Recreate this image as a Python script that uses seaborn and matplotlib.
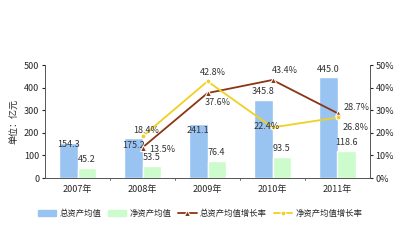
import pandas as pd
import matplotlib
matplotlib.use("Agg")
import matplotlib.pyplot as plt
import seaborn as sns

# data
years = ["2007年", "2008年", "2009年", "2010年", "2011年"]
total_assets = [154.3, 175.2, 241.1, 345.8, 445.0]
net_assets = [45.2, 53.5, 76.4, 93.5, 118.6]
total_growth = [None, 13.5, 37.6, 43.4, 28.7]
net_growth = [None, 18.4, 42.8, 22.4, 26.8]

sns.set_style("white")
plt.rcParams['font.family'] = ['Noto Sans CJK SC', 'DejaVu Sans']

bar_df = pd.DataFrame({
    "year": years * 2,
    "value": total_assets + net_assets,
    "kind": ["总资产均值"] * 5 + ["净资产均值"] * 5,
})
line_df = pd.DataFrame({"year": years, "total": total_growth, "net": net_growth}).dropna()

fig = plt.figure(figsize=(4, 2.4), dpi=100)
ax = fig.add_axes([0.1125, 0.258, 0.8125, 0.471])

sns.barplot(data=bar_df, x="year", y="value", hue="kind", ax=ax,
            palette=["#99C4F2", "#CCFCCC"], width=0.56, saturation=1, legend=False)
ax.set_ylim(0, 500)
ax.set_xlim(-0.5, 4.5)
ax.set_yticks(range(0, 501, 100))
ax.set_xlabel("")
ax.set_ylabel("单位：亿元", fontsize=6.5, labelpad=4)
ax.tick_params(axis="both", labelsize=6.5, length=2, pad=2)
ax.tick_params(axis="x", length=0, pad=5)
for x in [0.5, 1.5, 2.5, 3.5]:
    ax.plot([x, x], [0, -8], color="#555555", lw=0.6, clip_on=False)

# bar value labels (vertical offsets in points, as placed in the reference)
bar_dy = [[-1, -5, -5, 6, 6], [6, 6, 6, 6, 6]]
for ci, c in enumerate(ax.containers):
    for bi, p in enumerate(c.patches):
        ax.annotate(f"{p.get_height():.1f}", (p.get_x() + p.get_width() / 2, p.get_height()),
                    xytext=(0, bar_dy[ci][bi]), textcoords="offset points",
                    ha="center", va="center", fontsize=6.5, color="#333333")

ax2 = ax.twinx()
x_pos = [years.index(y) for y in line_df["year"]]
sns.lineplot(x=x_pos, y=line_df["total"].values, ax=ax2, color="#8B3513",
             marker="^", markersize=4, lw=1.3, label="总资产均值增长率", legend=False)
sns.lineplot(x=x_pos, y=line_df["net"].values, ax=ax2, color="#F0D020",
             marker="o", markersize=3.5, lw=1.3, label="净资产均值增长率", legend=False)
ax2.set_ylim(0, 50)
ax2.set_xlim(-0.5, 4.5)
ax2.set_yticks(range(0, 51, 10))
ax2.set_yticklabels([f"{v}%" for v in range(0, 51, 10)])
ax2.tick_params(axis="y", labelsize=6.5, length=2, pad=2)

tot_off = [(14, -1.5), (7, -7), (9, 6.5), (14, 4)]
net_off = [(3, 4.5), (4, 6), (-4, 1), (13, -7)]
for i, (x, v) in enumerate(zip(x_pos, line_df["total"])):
    ax2.annotate(f"{v:.1f}%", (x, v), xytext=tot_off[i], textcoords="offset points",
                 ha="center", va="center", fontsize=6.5, color="#333333")
for i, (x, v) in enumerate(zip(x_pos, line_df["net"])):
    ax2.annotate(f"{v:.1f}%", (x, v), xytext=net_off[i], textcoords="offset points",
                 ha="center", va="center", fontsize=6.5, color="#333333")

for a in (ax, ax2):
    a.spines["top"].set_visible(False)
    for s in ("left", "right", "bottom"):
        a.spines[s].set_color("#555555")
        a.spines[s].set_linewidth(0.6)

handles = [
    plt.Rectangle((0, 0), 1, 1, color="#99C4F2"),
    plt.Rectangle((0, 0), 1, 1, color="#CCFCCC"),
] + ax2.get_lines()[:2]
labels = ["总资产均值", "净资产均值", "总资产均值增长率", "净资产均值增长率"]
fig.legend(handles, labels, loc="center", bbox_to_anchor=(0.5, 0.11), ncol=4,
           frameon=False, fontsize=6, handlelength=2.2, columnspacing=0.8, handletextpad=0.4)

fig.savefig("out.png", dpi=100)
